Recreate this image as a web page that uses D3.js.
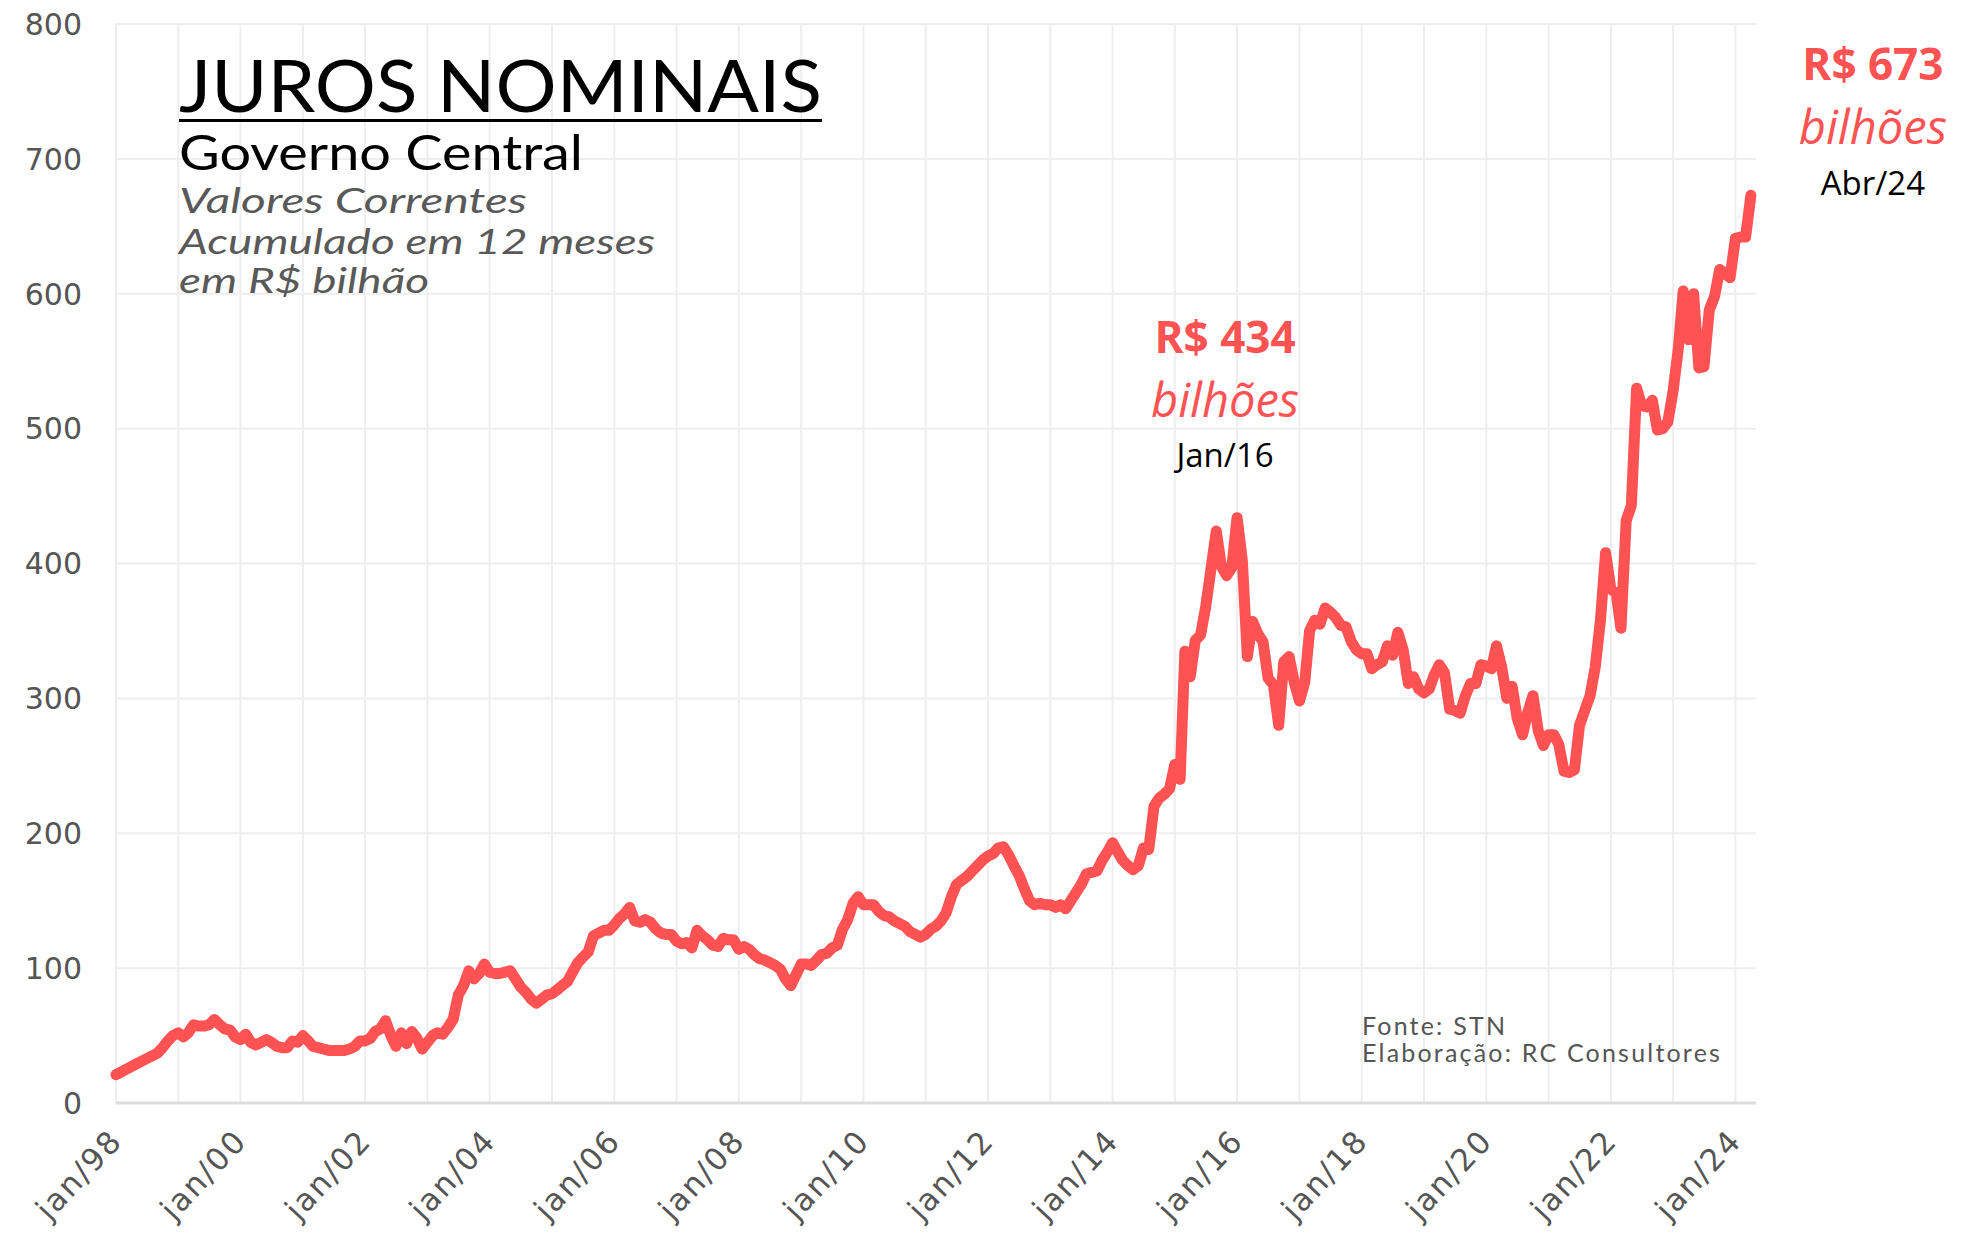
<!DOCTYPE html>
<html>
<head>
<meta charset="utf-8">
<script src="https://cdn.jsdelivr.net/npm/d3@7"></script>
<style>
html, body { margin: 0; padding: 0; background: #fff; }
svg { display: block; }
</style>
</head>
<body>
<div id="chart"></div>
<script>
// juros nominais do governo central, acumulado em 12 meses (R$ bilhões), mensal desde jan/98
var mesInicial = new Date(1998, 0, 1);
var juros = [
  21, 23, 25, 27, 29, 31, 33, 35, 37, 41, 46, 50,            // 1998
  52, 49, 52, 58, 57, 57, 58, 62, 58, 55, 54, 49,            // 1999
  47, 51, 45, 43, 45, 47, 45, 42, 41, 41, 46, 45,            // 2000
  50, 46, 42, 41, 40, 39, 39, 39, 39, 40, 42, 46,            // 2001
  46, 48, 53, 55, 61, 50, 42, 52, 44, 53, 48, 40,            // 2002
  45, 50, 52, 51, 56, 62, 80, 87, 98, 92, 96, 103,           // 2003
  97, 96, 96, 97, 98, 92, 86, 82, 77, 74, 77, 80,            // 2004
  81, 84, 87, 90, 97, 104, 108, 112, 124, 126, 128, 128,     // 2005
  132, 137, 140, 145, 135, 134, 136, 134, 129, 126, 125, 125, // 2006
  120, 118, 119, 115, 128, 124, 121, 117, 116, 122, 121, 121, // 2007
  114, 116, 114, 110, 107, 106, 104, 102, 99, 92, 87, 95,    // 2008
  103, 103, 102, 106, 110, 111, 115, 117, 129, 136, 148, 153, // 2009
  147, 147, 147, 142, 139, 138, 135, 133, 131, 127, 125, 123, // 2010
  125, 129, 131, 135, 141, 153, 162, 165, 168, 172, 176, 180, // 2011
  183, 185, 189, 190, 184, 176, 169, 159, 150, 147, 148, 147, // 2012
  147, 145, 147, 144, 150, 156, 162, 170, 171, 172, 180, 186, // 2013
  193, 186, 180, 176, 173, 176, 189, 188, 220, 226, 229, 233, // 2014
  251, 240, 335, 316, 343, 347, 368, 396, 424, 398, 391, 397, // 2015
  434, 402, 331, 357, 348, 342, 315, 310, 280, 327, 331, 312, // 2016
  298, 312, 350, 358, 355, 367, 364, 360, 354, 353, 342, 336, // 2017
  333, 333, 322, 325, 327, 339, 332, 349, 336, 311, 316, 307, // 2018
  304, 307, 317, 325, 319, 292, 291, 289, 302, 311, 311, 325, // 2019
  324, 322, 339, 323, 300, 309, 285, 273, 290, 302, 276, 265, // 2020
  273, 273, 266, 246, 245, 247, 280, 291, 302, 323, 358, 408, // 2021
  381, 378, 352, 432, 443, 530, 517, 516, 521, 499, 500, 505, // 2022
  528, 560, 602, 566, 600, 545, 546, 588, 598, 618, 615, 612, // 2023
  641, 642, 642, 673                                          // 2024
];
var yTicks = [0, 100, 200, 300, 400, 500, 600, 700, 800];
var xTickAnos = [1998, 2000, 2002, 2004, 2006, 2008, 2010, 2012, 2014, 2016, 2018, 2020, 2022, 2024];
var xTickRotulos = ['jan/98', 'jan/00', 'jan/02', 'jan/04', 'jan/06', 'jan/08', 'jan/10',
                    'jan/12', 'jan/14', 'jan/16', 'jan/18', 'jan/20', 'jan/22', 'jan/24'];
var titulo = 'JUROS NOMINAIS';
var subtitulo = 'Governo Central';
var notas = ['Valores Correntes', 'Acumulado em 12 meses', 'em R$ bilhão'];
var fonte = ['Fonte: STN', 'Elaboração: RC Consultores'];
var destaqueMeses = [new Date(2016, 0, 1), new Date(2024, 3, 1)];
var destaqueValores = [434, 673];
var destaqueRotulos = ['Jan/16', 'Abr/24'];

var W = 1967, H = 1236
	, red = '#FF5252'
	, grey = '#555';

var data = juros.map(function(v, i) {
	return { date: d3.timeMonth.offset(mesInicial, i), value: v };
});

var x = d3.scaleTime()
	.domain([mesInicial, new Date(2024, 4, 1)])
	.range([116, 1756]);
var y = d3.scaleLinear()
	.domain([0, 800])
	.range([1103, 24]);

var svg = d3.select('#chart')
	.append('svg')
	.attr('width', W)
	.attr('height', H)
	.attr('viewBox', '0 0 ' + W + ' ' + H);

svg.append('rect').attr('width', W).attr('height', H).attr('fill', '#fff');

// grade
var grid = svg.append('g').attr('class', 'grid');
grid.selectAll('line.h')
	.data(yTicks.filter(function(d) { return d > 0; }))
	.enter().append('line')
	.attr('class', 'h')
	.attr('x1', x.range()[0]).attr('x2', x.range()[1])
	.attr('y1', function(d) { return y(d); }).attr('y2', function(d) { return y(d); })
	.attr('stroke', '#eeeeee').attr('stroke-width', 2);
grid.selectAll('line.v')
	.data(d3.timeYear.range(mesInicial, new Date(2024, 1, 1)))
	.enter().append('line')
	.attr('class', 'v')
	.attr('x1', function(d) { return x(d); }).attr('x2', function(d) { return x(d); })
	.attr('y1', y(800)).attr('y2', y(0))
	.attr('stroke', '#eeeeee').attr('stroke-width', 2);
svg.append('line')
	.attr('x1', x.range()[0]).attr('x2', x.range()[1])
	.attr('y1', y(0)).attr('y2', y(0))
	.attr('stroke', '#dddddd').attr('stroke-width', 3);

// eixo y
svg.append('g')
	.selectAll('text')
	.data(yTicks)
	.enter().append('text')
	.attr('x', 82)
	.attr('y', function(d) { return y(d); })
	.attr('dy', '0.36em')
	.attr('text-anchor', 'end')
	.attr('font-family', 'DejaVu Sans, sans-serif')
	.attr('font-size', 30)
	.attr('fill', grey)
	.text(function(d) { return d; });

// eixo x
svg.append('g')
	.selectAll('text')
	.data(xTickAnos)
	.enter().append('text')
	.attr('transform', function(d) {
		return 'translate(' + (x(new Date(d, 0, 1)) + 8) + ',1142) rotate(-47)';
	})
	.attr('text-anchor', 'end')
	.attr('font-family', 'DejaVu Sans, sans-serif')
	.attr('font-size', 31)
	.attr('letter-spacing', 2)
	.attr('fill', grey)
	.text(function(d, i) { return xTickRotulos[i]; });

// linha
svg.append('path')
	.datum(data)
	.attr('fill', 'none')
	.attr('stroke', red)
	.attr('stroke-width', 11)
	.attr('stroke-linejoin', 'round')
	.attr('stroke-linecap', 'round')
	.attr('d', d3.line()
		.x(function(d) { return x(d.date); })
		.y(function(d) { return y(d.value); }));

// titulo
var tx = 179;
svg.append('text')
	.attr('x', tx).attr('y', 112)
	.attr('font-family', 'Lato, sans-serif')
	.attr('font-size', 72)
	.attr('textLength', 643).attr('lengthAdjust', 'spacingAndGlyphs')
	.attr('fill', '#000')
	.text(titulo);
svg.append('line')
	.attr('x1', tx).attr('x2', tx + 643)
	.attr('y1', 120.5).attr('y2', 120.5)
	.attr('stroke', '#000').attr('stroke-width', 3);
svg.append('text')
	.attr('x', tx).attr('y', 170)
	.attr('font-family', 'Lato, sans-serif')
	.attr('font-size', 48)
	.attr('textLength', 404).attr('lengthAdjust', 'spacingAndGlyphs')
	.attr('fill', '#000')
	.text(subtitulo);
var notaW = [348, 476, 250], notaY = [213, 254, 293];
svg.append('g')
	.selectAll('text')
	.data(notas)
	.enter().append('text')
	.attr('x', tx)
	.attr('y', function(d, i) { return notaY[i]; })
	.attr('font-family', 'Lato, sans-serif')
	.attr('font-style', 'italic')
	.attr('font-size', 34)
	.attr('textLength', function(d, i) { return notaW[i]; })
	.attr('lengthAdjust', 'spacingAndGlyphs')
	.attr('fill', '#595959')
	.text(function(d) { return d; });

// destaques
var dx = [-12, 122]
	, baseY = [[353, 417, 467], [80, 144, 195]];
destaqueMeses.forEach(function(m, i) {
	var cx = x(m) + dx[i]
		, g = svg.append('g')
			.attr('text-anchor', 'middle')
			.attr('font-family', 'Open Sans, sans-serif');
	g.append('text')
		.attr('x', cx).attr('y', baseY[i][0])
		.attr('font-size', 44).attr('font-weight', 700)
		.attr('fill', red)
		.text('R$ ' + destaqueValores[i]);
	g.append('text')
		.attr('x', cx).attr('y', baseY[i][1])
		.attr('font-size', 47).attr('font-style', 'italic')
		.attr('fill', red)
		.text('bilhões');
	g.append('text')
		.attr('x', cx).attr('y', baseY[i][2])
		.attr('font-size', 33)
		.attr('fill', '#000')
		.text(destaqueRotulos[i]);
});

// fonte
svg.append('g')
	.selectAll('text')
	.data(fonte)
	.enter().append('text')
	.attr('x', 1362)
	.attr('y', function(d, i) { return 1035 + i * 27; })
	.attr('font-family', 'Lato, sans-serif')
	.attr('font-size', 25)
	.attr('letter-spacing', 2.2)
	.attr('fill', grey)
	.text(function(d) { return d; });
</script>
</body>
</html>
